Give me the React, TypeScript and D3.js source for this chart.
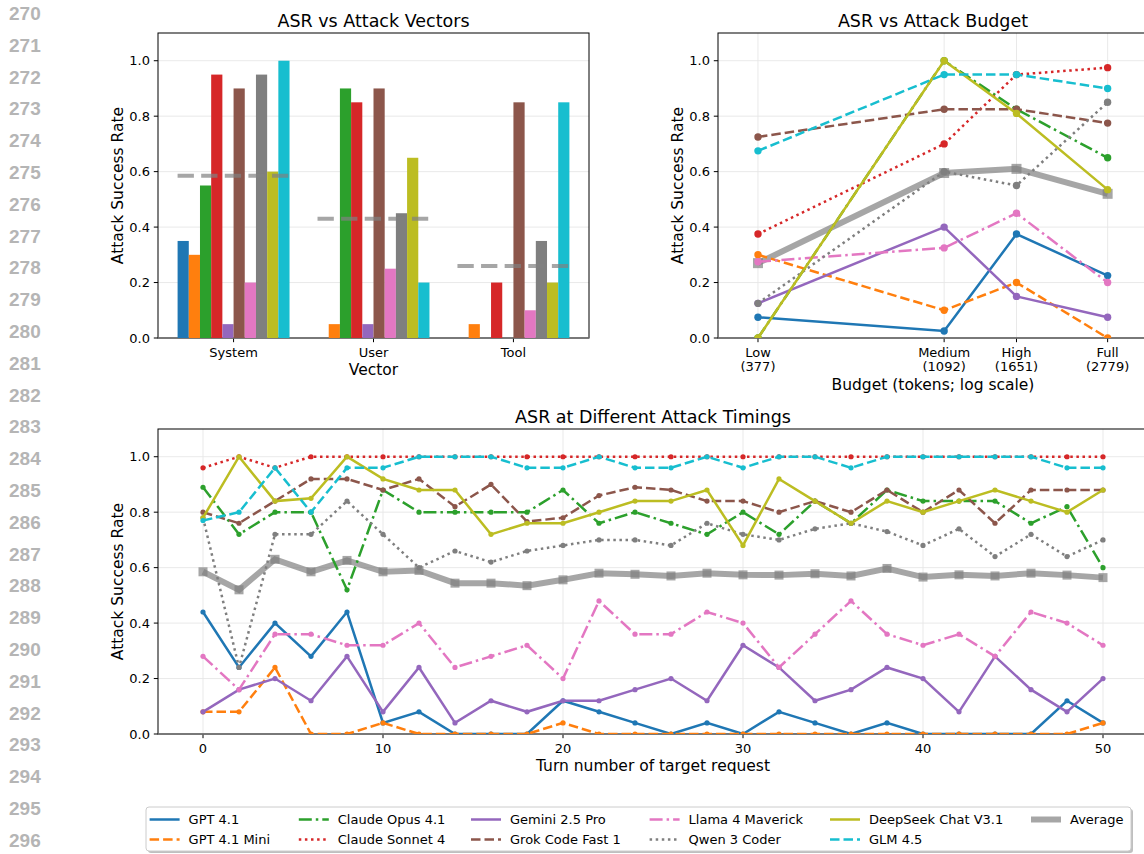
// ASR figure: attack vectors (bars), attack budget (log x), attack timings
import { useEffect, useRef } from 'react';
import * as d3 from 'd3';

// ---------------- data ----------------
const models = [
  'GPT 4.1', 'GPT 4.1 Mini', 'Claude Opus 4.1', 'Claude Sonnet 4', 'Gemini 2.5 Pro',
  'Grok Code Fast 1', 'Llama 4 Maverick', 'Qwen 3 Coder', 'DeepSeek Chat V3.1', 'GLM 4.5'
];
const modelColors = ['#1f77b4', '#ff7f0e', '#2ca02c', '#d62728', '#9467bd', '#8c564b', '#e377c2', '#7f7f7f', '#bcbd22', '#17becf'];
const modelStyles = ['solid', 'dashed', 'dashdot', 'dotted', 'solid', 'dashed', 'dashdot', 'dotted', 'solid', 'dashed'];

// ASR vs attack vectors
const vectors = ['System', 'User', 'Tool'];
const vectorSystem = [0.35, 0.30, 0.55, 0.95, 0.05, 0.90, 0.20, 0.95, 0.60, 1.00];
const vectorUser = [0.00, 0.05, 0.90, 0.85, 0.05, 0.90, 0.25, 0.45, 0.65, 0.20];
const vectorTool = [0.00, 0.05, 0.00, 0.20, 0.00, 0.85, 0.10, 0.35, 0.20, 0.85];
const vectorAverage = [0.585, 0.43, 0.26];

// ASR vs attack budget
const budgetLabels = ['Low', 'Medium', 'High', 'Full'];
const budgetTokens = [377, 1092, 1651, 2779];
const budgetGpt41 = [0.075, 0.025, 0.375, 0.225];
const budgetGpt41Mini = [0.30, 0.10, 0.20, 0.00];
const budgetClaudeOpus = [0.00, 1.00, 0.825, 0.65];
const budgetClaudeSonnet = [0.375, 0.70, 0.95, 0.975];
const budgetGemini = [0.125, 0.40, 0.15, 0.075];
const budgetGrok = [0.725, 0.825, 0.825, 0.775];
const budgetLlama = [0.275, 0.325, 0.45, 0.20];
const budgetQwen = [0.125, 0.60, 0.55, 0.85];
const budgetDeepSeek = [0.00, 1.00, 0.81, 0.535];
const budgetGlm = [0.675, 0.95, 0.95, 0.90];
const budgetAverage = [0.27, 0.595, 0.61, 0.52];

// ASR at different attack timings
const turns = [0, 2, 4, 6, 8, 10, 12, 14, 16, 18, 20, 22, 24, 26, 28, 30, 32, 34, 36, 38, 40, 42, 44, 46, 48, 50];
const timingGpt41 = [0.44, 0.24, 0.40, 0.28, 0.44, 0.04, 0.08, 0, 0, 0, 0.12, 0.08, 0.04, 0, 0.04, 0, 0.08, 0.04, 0, 0.04, 0, 0, 0, 0, 0.12, 0.04];
const timingGpt41Mini = [0.08, 0.08, 0.24, 0, 0, 0.04, 0, 0, 0, 0, 0.04, 0, 0, 0, 0, 0, 0, 0, 0, 0, 0, 0, 0, 0, 0, 0.04];
const timingClaudeOpus = [0.89, 0.72, 0.80, 0.80, 0.52, 0.88, 0.80, 0.80, 0.80, 0.80, 0.88, 0.76, 0.80, 0.76, 0.72, 0.80, 0.72, 0.84, 0.76, 0.88, 0.84, 0.84, 0.84, 0.76, 0.82, 0.60];
const timingClaudeSonnet = [0.96, 1, 0.96, 1, 1, 1, 1, 1, 1, 1, 1, 1, 1, 1, 1, 1, 1, 1, 1, 1, 1, 1, 1, 1, 1, 1];
const timingGemini = [0.08, 0.16, 0.20, 0.12, 0.28, 0.08, 0.24, 0.04, 0.12, 0.08, 0.12, 0.12, 0.16, 0.20, 0.12, 0.32, 0.24, 0.12, 0.16, 0.24, 0.20, 0.08, 0.28, 0.16, 0.08, 0.20];
const timingGrok = [0.80, 0.76, 0.84, 0.92, 0.92, 0.88, 0.92, 0.82, 0.90, 0.766, 0.78, 0.86, 0.89, 0.88, 0.84, 0.84, 0.80, 0.84, 0.80, 0.88, 0.80, 0.88, 0.76, 0.88, 0.88, 0.88];
const timingLlama = [0.28, 0.16, 0.36, 0.36, 0.32, 0.32, 0.40, 0.24, 0.28, 0.32, 0.20, 0.48, 0.36, 0.36, 0.44, 0.40, 0.24, 0.36, 0.48, 0.36, 0.32, 0.36, 0.28, 0.44, 0.40, 0.32];
const timingQwen = [0.78, 0.24, 0.72, 0.72, 0.84, 0.72, 0.60, 0.66, 0.62, 0.66, 0.68, 0.70, 0.70, 0.68, 0.76, 0.72, 0.70, 0.74, 0.76, 0.73, 0.68, 0.74, 0.64, 0.72, 0.64, 0.70];
const timingDeepSeek = [0.78, 1.00, 0.84, 0.85, 1.00, 0.92, 0.88, 0.88, 0.72, 0.76, 0.76, 0.80, 0.84, 0.84, 0.88, 0.68, 0.92, 0.84, 0.76, 0.84, 0.80, 0.84, 0.88, 0.84, 0.80, 0.88];
const timingGlm = [0.77, 0.80, 0.96, 0.80, 0.96, 0.96, 1.00, 1.00, 1.00, 0.96, 0.96, 1.00, 0.96, 0.96, 1.00, 0.96, 1.00, 1.00, 0.96, 1.00, 1.00, 1.00, 1.00, 1.00, 0.96, 0.96];
const timingAverage = [0.585, 0.52, 0.63, 0.585, 0.626, 0.585, 0.59, 0.544, 0.544, 0.535, 0.556, 0.58, 0.576, 0.57, 0.58, 0.574, 0.573, 0.578, 0.57, 0.597, 0.566, 0.574, 0.57, 0.58, 0.573, 0.564];

// ticks
const yTicks = [0, 0.2, 0.4, 0.6, 0.8, 1.0];
const turnTicks = [0, 10, 20, 30, 40, 50];
const lineNumbers = d3.range(270, 297).map(String);

// ---------------- helpers ----------------
const W = 1144;
const H = 854;
const FONT = '"DejaVu Sans", Verdana, sans-serif';
const AVG_COLOR = '#808080';
const LW = 2.5;

const dashFor = (s: string) =>
  s === 'dashed' ? '9.5,4' : s === 'dashdot' ? '13,4,2.5,4' : s === 'dotted' ? '2.5,3.6' : null;

type Box = { left: number; right: number; top: number; bottom: number };

const drawAxes = (
  svg: any,
  box: Box,
  x: (v: number) => number,
  y: d3.ScaleLinear<number, number>,
  xTicks: number[],
  xLabels: string[][],
  xGrid: boolean,
  clipId: string
) => {
  const g = svg.append('g');

  // grid
  g.selectAll('.hgrid').data(yTicks).enter().append('line')
    .attr('x1', box.left).attr('x2', box.right)
    .attr('y1', (d: number) => y(d)).attr('y2', (d: number) => y(d))
    .attr('stroke', '#e6e6e6').attr('stroke-width', 0.9);
  if (xGrid) {
    g.selectAll('.vgrid').data(xTicks).enter().append('line')
      .attr('x1', (d: number) => x(d)).attr('x2', (d: number) => x(d))
      .attr('y1', box.top).attr('y2', box.bottom)
      .attr('stroke', '#e6e6e6').attr('stroke-width', 0.9);
  }

  // frame
  g.append('rect')
    .attr('x', box.left).attr('y', box.top)
    .attr('width', box.right - box.left).attr('height', box.bottom - box.top)
    .attr('fill', 'none').attr('stroke', '#000').attr('stroke-width', 1);

  // y ticks
  g.selectAll('.ytick').data(yTicks).enter().append('line')
    .attr('x1', box.left - 4.2).attr('x2', box.left)
    .attr('y1', (d: number) => y(d)).attr('y2', (d: number) => y(d))
    .attr('stroke', '#000').attr('stroke-width', 1);
  g.selectAll('.ylab').data(yTicks).enter().append('text')
    .attr('x', box.left - 8).attr('y', (d: number) => y(d) + 4.6)
    .attr('text-anchor', 'end').attr('font-family', FONT).attr('font-size', 13)
    .text((d: number) => d3.format('.1f')(d));

  // x ticks
  g.selectAll('.xtick').data(xTicks).enter().append('line')
    .attr('x1', (d: number) => x(d)).attr('x2', (d: number) => x(d))
    .attr('y1', box.bottom).attr('y2', box.bottom + 4.2)
    .attr('stroke', '#000').attr('stroke-width', 1);
  xTicks.forEach((t, i) => {
    xLabels[i].forEach((line, li) => {
      g.append('text')
        .attr('x', x(t)).attr('y', box.bottom + 18.5 + li * 14.5)
        .attr('text-anchor', 'middle').attr('font-family', FONT).attr('font-size', 13)
        .text(line);
    });
  });

  // zero line
  g.append('line')
    .attr('x1', box.left).attr('x2', box.right)
    .attr('y1', y(0)).attr('y2', y(0))
    .attr('stroke', '#7a7a7a').attr('stroke-width', 1.6);

  svg.append('clipPath').attr('id', clipId).append('rect')
    .attr('x', box.left).attr('y', box.top)
    .attr('width', box.right - box.left).attr('height', box.bottom - box.top);

  return svg.append('g').attr('clip-path', `url(#${clipId})`);
};

const addText = (svg: any, x: number, y: number, size: number, text: string, rotate = false) => {
  const t = svg.append('text')
    .attr('text-anchor', 'middle').attr('font-family', FONT).attr('font-size', size)
    .text(text);
  if (rotate) t.attr('transform', `translate(${x},${y}) rotate(-90)`);
  else t.attr('x', x).attr('y', y);
};

const App = () => {
  const svgRef = useRef<SVGSVGElement>(null);

  useEffect(() => {
    if (!svgRef.current) return;
    const svg = d3.select(svgRef.current);
    svg.selectAll('*').remove();
    svg.append('rect').attr('width', W).attr('height', H).attr('fill', '#fff');

    // page line numbers
    svg.append('g').selectAll('text').data(lineNumbers).enter().append('text')
      .attr('x', 9).attr('y', (_d, i) => 20 + i * 31.8)
      .attr('font-family', '"Liberation Sans", Arial, sans-serif')
      .attr('font-weight', 'bold').attr('font-size', 19).attr('fill', '#b5b5b5')
      .text(d => d);

    // ---- ASR vs Attack Vectors ----
    const box1 = { left: 158, right: 589, top: 33, bottom: 338 };
    const x1 = d3.scaleLinear().domain([-0.54, 2.54]).range([box1.left, box1.right]);
    const y1 = d3.scaleLinear().domain([0, 1.1]).range([box1.bottom, box1.top]);
    const plot1 = drawAxes(svg, box1, x1, y1, [0, 1, 2], vectors.map(v => [v]), false, 'clip1');
    const barW = 0.08;
    [vectorSystem, vectorUser, vectorTool].forEach((vals, gi) => {
      plot1.selectAll(null).data(vals).enter().append('rect')
        .attr('x', (_d: number, i: number) => x1(gi + (i - 5) * barW))
        .attr('width', x1(barW) - x1(0))
        .attr('y', (d: number) => y1(d))
        .attr('height', (d: number) => y1(0) - y1(d))
        .attr('fill', (_d: number, i: number) => modelColors[i]);
    });
    plot1.selectAll('.avg').data(vectorAverage).enter().append('line')
      .attr('x1', (_d: number, i: number) => x1(i - 0.4))
      .attr('x2', (_d: number, i: number) => x1(i + 0.4))
      .attr('y1', (d: number) => y1(d)).attr('y2', (d: number) => y1(d))
      .attr('stroke', AVG_COLOR).attr('stroke-opacity', 0.7)
      .attr('stroke-width', 4).attr('stroke-dasharray', '16.3,7.3');
    addText(svg, (box1.left + box1.right) / 2, 27, 17.5, 'ASR vs Attack Vectors');
    addText(svg, (box1.left + box1.right) / 2, 375, 15.5, 'Vector');
    addText(svg, 123, (box1.top + box1.bottom) / 2, 15.5, 'Attack Success Rate', true);

    // ---- ASR vs Attack Budget ----
    const box2 = { left: 718, right: 1148, top: 33, bottom: 338 };
    const x2 = d3.scaleLog().domain([300, 3500]).range([box2.left, box2.right]);
    const y2 = d3.scaleLinear().domain([0, 1.1]).range([box2.bottom, box2.top]);
    const plot2 = drawAxes(svg, box2, x2, y2, budgetTokens,
      budgetLabels.map((l, i) => [l, `(${budgetTokens[i]})`]), true, 'clip2');
    const budgetSeries = [budgetGpt41, budgetGpt41Mini, budgetClaudeOpus, budgetClaudeSonnet, budgetGemini,
      budgetGrok, budgetLlama, budgetQwen, budgetDeepSeek, budgetGlm];
    const line2 = d3.line<number>().x((_d, i) => x2(budgetTokens[i])).y(d => y2(d));
    plot2.append('path').attr('d', line2(budgetAverage))
      .attr('fill', 'none').attr('stroke', AVG_COLOR).attr('stroke-opacity', 0.7).attr('stroke-width', 6);
    plot2.selectAll('.avgm').data(budgetAverage).enter().append('rect')
      .attr('x', (_d: number, i: number) => x2(budgetTokens[i]) - 5)
      .attr('y', (d: number) => y2(d) - 5)
      .attr('width', 10).attr('height', 10)
      .attr('fill', AVG_COLOR).attr('fill-opacity', 0.7);
    budgetSeries.forEach((vals, si) => {
      plot2.append('path').attr('d', line2(vals))
        .attr('fill', 'none').attr('stroke', modelColors[si]).attr('stroke-width', LW)
        .attr('stroke-dasharray', dashFor(modelStyles[si]));
      plot2.selectAll(null).data(vals).enter().append('circle')
        .attr('cx', (_d: number, i: number) => x2(budgetTokens[i]))
        .attr('cy', (d: number) => y2(d))
        .attr('r', 3.7).attr('fill', modelColors[si]);
    });
    addText(svg, 933, 27, 17.5, 'ASR vs Attack Budget');
    addText(svg, 933, 390, 15.5, 'Budget (tokens; log scale)');
    addText(svg, 683, (box2.top + box2.bottom) / 2, 15.5, 'Attack Success Rate', true);

    // ---- ASR at Different Attack Timings ----
    const box3 = { left: 158, right: 1148, top: 429, bottom: 734 };
    const x3 = d3.scaleLinear().domain([-2.5, 52.5]).range([box3.left, box3.right]);
    const y3 = d3.scaleLinear().domain([0, 1.1]).range([box3.bottom, box3.top]);
    const plot3 = drawAxes(svg, box3, x3, y3, turnTicks, turnTicks.map(t => [String(t)]), true, 'clip3');
    const timingSeries = [timingGpt41, timingGpt41Mini, timingClaudeOpus, timingClaudeSonnet, timingGemini,
      timingGrok, timingLlama, timingQwen, timingDeepSeek, timingGlm];
    const line3 = d3.line<number>().x((_d, i) => x3(turns[i])).y(d => y3(d));
    plot3.append('path').attr('d', line3(timingAverage))
      .attr('fill', 'none').attr('stroke', AVG_COLOR).attr('stroke-opacity', 0.7).attr('stroke-width', 6);
    plot3.selectAll('.avgm').data(timingAverage).enter().append('rect')
      .attr('x', (_d: number, i: number) => x3(turns[i]) - 4.5)
      .attr('y', (d: number) => y3(d) - 4.5)
      .attr('width', 9).attr('height', 9)
      .attr('fill', AVG_COLOR).attr('fill-opacity', 0.7);
    timingSeries.forEach((vals, si) => {
      plot3.append('path').attr('d', line3(vals))
        .attr('fill', 'none').attr('stroke', modelColors[si]).attr('stroke-width', LW)
        .attr('stroke-dasharray', dashFor(modelStyles[si]));
      plot3.selectAll(null).data(vals).enter().append('circle')
        .attr('cx', (_d: number, i: number) => x3(turns[i]))
        .attr('cy', (d: number) => y3(d))
        .attr('r', 2.6).attr('fill', modelColors[si]);
    });
    addText(svg, (box3.left + box3.right) / 2, 423, 17.5, 'ASR at Different Attack Timings');
    addText(svg, (box3.left + box3.right) / 2, 771, 15.5, 'Turn number of target request');
    addText(svg, 123, (box3.top + box3.bottom) / 2, 15.5, 'Attack Success Rate', true);

    // ---- legend ----
    const lg = svg.append('g');
    lg.append('rect').attr('x', 148).attr('y', 809).attr('width', 985).attr('height', 44)
      .attr('rx', 3).attr('fill', '#000').attr('fill-opacity', 0.25);
    lg.append('rect').attr('x', 146).attr('y', 807).attr('width', 985).attr('height', 44)
      .attr('rx', 3).attr('fill', '#fff').attr('stroke', '#cccccc').attr('stroke-width', 1);
    const colX = [149.6, 298.8, 471, 649.6, 830, 1031];
    const rowY = [819.5, 839.5];
    const entries = [
      ...models.map((m, i) => ({ name: m, color: modelColors[i], style: modelStyles[i], avg: false })),
      { name: 'Average', color: AVG_COLOR, style: 'solid', avg: true }
    ];
    entries.forEach((e, i) => {
      const cx = colX[Math.floor(i / 2)];
      const cy = rowY[i % 2];
      lg.append('line').attr('x1', cx).attr('x2', cx + 30).attr('y1', cy).attr('y2', cy)
        .attr('stroke', e.color).attr('stroke-width', e.avg ? 6 : LW)
        .attr('stroke-opacity', e.avg ? 0.7 : 1)
        .attr('stroke-dasharray', dashFor(e.style));
      lg.append('text').attr('x', cx + 39).attr('y', cy + 4.6)
        .attr('font-family', FONT).attr('font-size', 13).text(e.name);
    });
  }, []);

  return (
    <div style={{ position: 'absolute', left: 0, top: 0 }}>
      <svg ref={svgRef} width={W} height={H} style={{ display: 'block' }} />
    </div>
  );
};

export default App;
